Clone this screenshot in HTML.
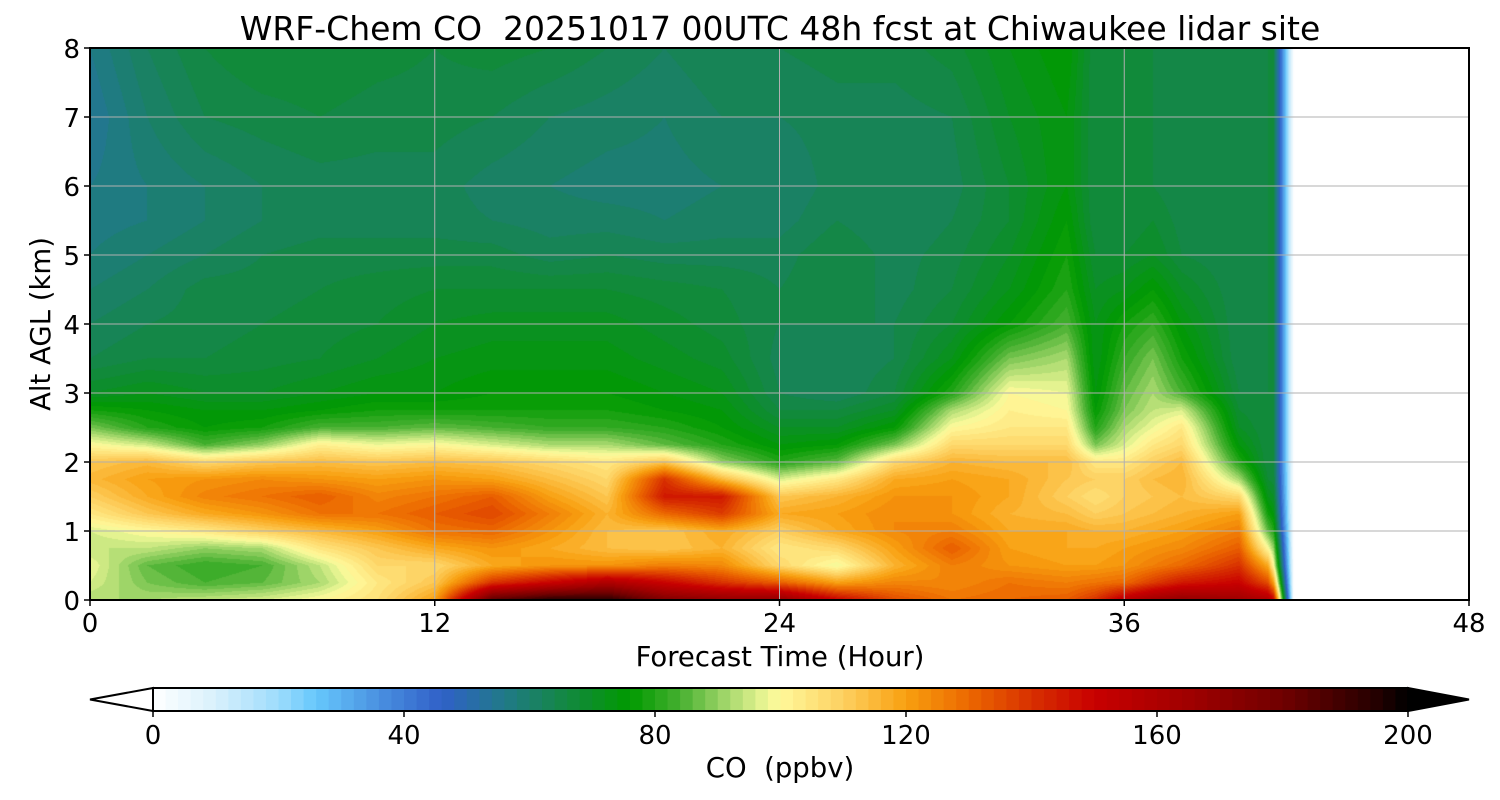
<!DOCTYPE html>
<html><head><meta charset="utf-8">
<style>
body{margin:0;background:#fff;width:1500px;height:800px;overflow:hidden;font-family:"DejaVu Sans","Liberation Sans",sans-serif}
#cv{position:absolute;left:90px;top:48px}
svg{position:absolute;left:0;top:0}
text{white-space:pre}
</style></head><body>
<canvas id="cv" width="1379" height="552"></canvas>
<svg id="sv" width="1500" height="800"></svg>
<script>
const hours=[0,2,4,6,8,10,12,14,16,18,20,22,24,26,28,30,32,34,35,36,37,38,40,41,41.2,41.9,48];
const alts=[0,0.25,0.5,0.75,1,1.25,1.5,1.75,2,2.25,2.5,2.75,3,3.5,4,4.5,5,5.5,6,7,8];
const h0=[92,96,98,94,96,104,110,115,112,100,88,78,70,64,62,60,58,57,56,54,56];
const h2=[92,88,86,94,100,112,118,120,115,95,80,76,72,66,64,62,60,58,58,60,62];
const h4=[94,84,82,90,104,118,125,122,108,84,76,74,70,66,65,65,62,60,60,64,66];
const h6=[96,86,84,92,110,122,128,124,112,90,78,74,70,67,66,65,64,62,62,65,68];
const h8=[100,92,94,105,115,128,132,122,114,102,84,76,72,68,67,66,65,63,63,66,68];
const h10=[106,104,108,112,120,128,125,120,112,98,84,78,74,70,68,67,65,63,63,65,67];
const h12=[120,112,108,118,128,132,128,122,114,100,86,78,74,72,70,68,65,63,63,65,66];
const h14=[185,140,118,122,130,136,132,120,112,96,84,78,76,73,71,68,65,62,61,64,67];
const h16=[195,150,122,118,122,126,120,114,108,92,82,78,76,73,71,68,63,61,60,62,66];
const h18=[195,160,122,114,114,116,112,108,104,92,82,78,76,73,71,68,64,61,59,61,64];
const h20=[175,150,126,112,112,130,145,140,112,86,80,76,74,71,69,67,63,60,59,60,62];
const h22=[170,140,124,116,118,138,145,115,90,80,76,74,72,69,67,66,63,61,60,62,64];
const h24=[170,132,108,104,110,118,112,96,80,74,70,66,64,63,64,64,63,61,60,62,64];
const h26=[150,120,98,108,118,120,116,104,86,76,70,66,62,62,64,66,66,64,63,63,65];
const h28=[135,125,116,120,124,124,122,118,108,88,76,70,66,64,64,63,63,62,62,63,65];
const h30=[128,124,126,132,126,122,122,120,116,108,100,92,80,72,68,66,65,64,63,64,67];
const h32=[130,128,122,120,118,116,118,118,114,108,104,102,100,88,76,72,70,68,68,70,72];
const h34=[132,126,120,118,118,114,110,112,114,108,104,100,98,92,84,80,78,76,74,74,76];
const h35=[140,128,120,118,116,110,106,110,104,88,80,76,74,72,72,70,68,66,66,66,66];
const h36=[155,130,122,120,116,112,110,110,104,96,92,88,86,82,78,72,68,66,66,66,66];
const h37=[165,138,126,122,118,114,112,114,110,104,98,94,92,88,82,76,70,68,66,66,66];
const h38=[170,145,130,124,120,116,114,116,114,108,104,96,84,78,74,70,66,65,64,64,64];
const h40=[165,150,140,132,126,120,108,92,80,74,70,68,66,64,64,64,64,64,64,64,66];
const h41=[160,135,118,100,86,78,72,68,66,66,66,66,66,66,66,66,66,66,66,66,66];
const h41b=[150,120,100,90,80,74,70,67,66,66,66,66,66,66,66,66,66,66,66,66,66];
const h42=[0,0,0,0,0,0,0,0,0,0,0,0,0,0,0,0,0,0,0,0,0];
const h48=[0,0,0,0,0,0,0,0,0,0,0,0,0,0,0,0,0,0,0,0,0];
const cols=[h0,h2,h4,h6,h8,h10,h12,h14,h16,h18,h20,h22,h24,h26,h28,h30,h32,h34,h35,h36,h37,h38,h40,h41,h41b,h42,h48];
const cbTicks=[0,40,80,120,160,200];
const xTicks=[0,12,24,36,48];
const yTicks=[0,1,2,3,4,5,6,7,8];

const anchors=[[0,[255,255,255]],[10,[216,240,252]],[20,[157,220,252]],[26,[102,200,252]],[36,[74,144,224]],[46,[48,96,200]],[56,[32,122,136]],[66,[19,136,64]],[76,[0,154,0]],[84,[70,176,48]],[92,[170,218,112]],[98,[240,248,150]],[100,[255,248,154]],[110,[253,208,96]],[120,[248,160,16]],[130,[236,104,0]],[140,[216,48,0]],[150,[200,0,0]],[165,[160,0,0]],[180,[112,0,0]],[195,[36,0,0]],[200,[0,0,0]]];
function cmap(v){
  if(v<=0)return[255,255,255];if(v>=200)return[0,0,0];
  const q=Math.floor(v/2)*2+1;
  for(let i=1;i<anchors.length;i++){if(q<=anchors[i][0]){const a=anchors[i-1],b=anchors[i],t=(q-a[0])/(b[0]-a[0]);return a[1].map((c,k)=>Math.round(c+(b[1][k]-c)*t));}}
  return[0,0,0];
}
const PX=90,PY=48,PW=1379,PH=552;
const xs=h=>PX+h/48*PW, ys=a=>PY+PH-a/8*PH;
function idx(arr,v){let i=0;while(i<arr.length-2&&v>arr[i+1])i++;return i;}
const ctx=document.getElementById('cv').getContext('2d');
const img=ctx.createImageData(PW,PH);
for(let py=0;py<PH;py++){
  const a=(PH-py-0.5)/PH*8;const j=idx(alts,a);const ty=(a-alts[j])/(alts[j+1]-alts[j]);
  for(let px=0;px<PW;px++){
    const h=(px+0.5)/PW*48;const i=idx(hours,h);const tx=Math.min(1,Math.max(0,(h-hours[i])/(hours[i+1]-hours[i])));
    const v=(cols[i][j]*(1-ty)+cols[i][j+1]*ty)*(1-tx)+(cols[i+1][j]*(1-ty)+cols[i+1][j+1]*ty)*tx;
    const c=cmap(v);const o=(py*PW+px)*4;img.data[o]=c[0];img.data[o+1]=c[1];img.data[o+2]=c[2];img.data[o+3]=255;
  }
}
ctx.putImageData(img,0,0);

const sv=document.getElementById('sv');const NS='http://www.w3.org/2000/svg';
function mk(t,at,txt){const e=document.createElementNS(NS,t);for(const k in at)e.setAttribute(k,at[k]);if(txt!==undefined)e.textContent=txt;sv.appendChild(e);return e;}
xTicks.forEach(t=>{
  if(t>0&&t<48){const g=mk('line',{x1:xs(t),x2:xs(t),y1:PY,y2:PY+PH,stroke:'#b0b0b0','stroke-width':1});
  
  }
  const tk=mk('line',{x1:xs(t),x2:xs(t),y1:PY+PH,y2:PY+PH+6,stroke:'#000','stroke-width':1.5});
  
  
  const l=mk('text',{x:xs(t),y:632,'font-size':26,'text-anchor':'middle'},t);
  
  
});
yTicks.forEach(t=>{
  if(t>0&&t<8){const g=mk('line',{x1:PX,x2:PX+PW,y1:ys(t),y2:ys(t),stroke:'#b0b0b0','stroke-width':1});
  
  }
  const tk=mk('line',{x1:PX-6,x2:PX,y1:ys(t),y2:ys(t),stroke:'#000','stroke-width':1.5});
  
  
  const l=mk('text',{x:80,y:ys(t)+10,'font-size':26,'text-anchor':'end'},t);
  
  
});
const fr=mk('rect',{x:PX,y:PY,width:PW,height:PH,fill:'none',stroke:'#000','stroke-width':2});


const ti=mk('text',{x:780,y:40,'font-size':33,'text-anchor':'middle'},'WRF-Chem CO  20251017 00UTC 48h fcst at Chiwaukee lidar site');


const xl=mk('text',{x:780,y:666,'font-size':27.5,'text-anchor':'middle'},'Forecast Time (Hour)');


const yl=mk('text',{x:0,y:0,'font-size':27.5,'text-anchor':'middle',transform:'translate(50,324) rotate(-90)'},'Alt AGL (km)');


const CX0=153,CX1=1408,CY=688,CH=23;const cx=v=>CX0+v/200*(CX1-CX0);
for(let v=0;v<200;v+=2){const c=cmap(v+1);const r=mk('rect',{x:cx(v),y:CY,width:cx(v+2)-cx(v)+0.6,height:CH,fill:`rgb(${c})`});

}
const lt=mk('polygon',{points:`${CX0},${CY} 90,${CY+CH/2} ${CX0},${CY+CH}`,fill:'#fff',stroke:'#000','stroke-width':2});


const rt=mk('polygon',{points:`${CX1},${CY} 1469,${CY+CH/2} ${CX1},${CY+CH}`,fill:'#000',stroke:'#000','stroke-width':2});


const cb=mk('rect',{x:CX0,y:CY,width:CX1-CX0,height:CH,fill:'none',stroke:'#000','stroke-width':2});


cbTicks.forEach(t=>{
  const tk=mk('line',{x1:cx(t),x2:cx(t),y1:CY+CH,y2:CY+CH+6,stroke:'#000','stroke-width':1.5});
  
  
  const l=mk('text',{x:cx(t),y:744,'font-size':26,'text-anchor':'middle'},t);
  
  
});
const cl=mk('text',{x:780,y:777,'font-size':27.5,'text-anchor':'middle'},'CO  (ppbv)');


</script>
</body></html>
